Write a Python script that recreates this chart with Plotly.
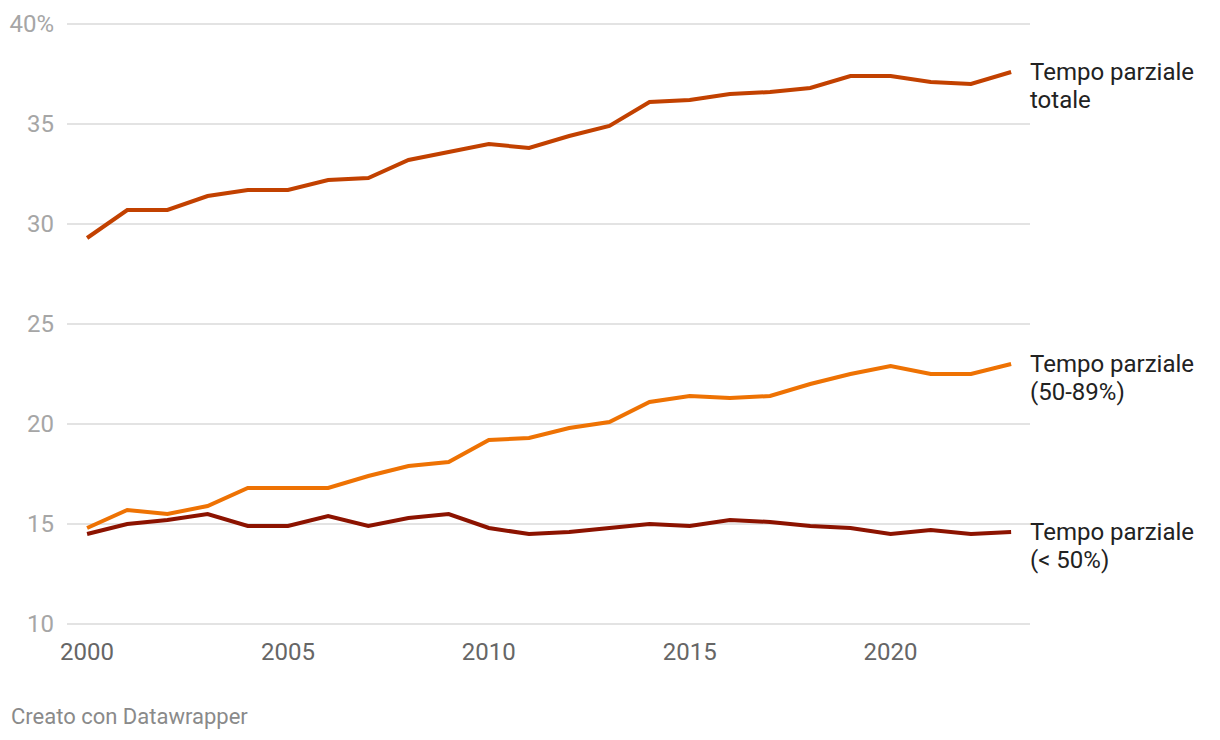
import plotly.graph_objects as go

years = list(range(2000, 2024))
totale = [29.3, 30.7, 30.7, 31.4, 31.7, 31.7, 32.2, 32.3, 33.2, 33.6, 34.0, 33.8,
          34.4, 34.9, 36.1, 36.2, 36.5, 36.6, 36.8, 37.4, 37.4, 37.1, 37.0, 37.6]
p50_89 = [14.8, 15.7, 15.5, 15.9, 16.8, 16.8, 16.8, 17.4, 17.9, 18.1, 19.2, 19.3,
          19.8, 20.1, 21.1, 21.4, 21.3, 21.4, 22.0, 22.5, 22.9, 22.5, 22.5, 23.0]
p_lt50 = [14.5, 15.0, 15.2, 15.5, 14.9, 14.9, 15.4, 14.9, 15.3, 15.5, 14.8, 14.5,
          14.6, 14.8, 15.0, 14.9, 15.2, 15.1, 14.9, 14.8, 14.5, 14.7, 14.5, 14.6]

series_labels = [["Tempo parziale", "totale"],
                 ["Tempo parziale", "(50-89%)"],
                 ["Tempo parziale", "(< 50%)"]]
series_vals = [totale, p50_89, p_lt50]
colors = ["#c24100", "#ee7203", "#8c1300"]

y_ticks = [10, 15, 20, 25, 30, 35, 40]
y_ticktext = ["10", "15", "20", "25", "30", "35", "40%"]
x_ticks = [2000, 2005, 2010, 2015, 2020]

FONT = "Roboto"

fig = go.Figure()
for lines, vals, col in zip(series_labels, series_vals, colors):
    fig.add_trace(go.Scatter(x=years, y=vals, mode="lines",
                             line=dict(color=col, width=4),
                             name=" ".join(lines), hoverinfo="x+y", showlegend=False))
    for i, txt in enumerate(lines):
        fig.add_annotation(x=years[-1], y=vals[-1], xref="x", yref="y",
                           text=txt, showarrow=False, xanchor="left", yanchor="middle",
                           align="left", xshift=17, yshift=-28 * i,
                           font=dict(family=FONT, size=24, color="#222222"))

fig.add_annotation(x=0, y=0, xref="paper", yref="paper", text="Creato con Datawrapper",
                   showarrow=False, xanchor="left", yanchor="middle",
                   xshift=-58, yshift=-90,
                   font=dict(family=FONT, size=22, color="#8a8a8a"))

fig.update_layout(
    width=1212, height=732,
    margin=dict(l=59, r=190, t=14, b=114),
    plot_bgcolor="white", paper_bgcolor="white",
    font=dict(family=FONT),
    xaxis=dict(range=[1999.5, 2023.47], tickvals=x_ticks, showgrid=False,
               zeroline=False, showline=False, ticks="", automargin=False,
               tickfont=dict(family=FONT, size=24, color="#666666"),
               ticklabelstandoff=9),
    yaxis=dict(range=[9.9, 40.1], tickvals=y_ticks, ticktext=y_ticktext,
               showgrid=True, gridcolor="#e3e3e3", gridwidth=1.5,
               zeroline=False, showline=False, ticks="", automargin=False,
               tickfont=dict(family=FONT, size=24, color="#a6a6a6"),
               ticklabelstandoff=12),
)

fig.write_html("out.html")
